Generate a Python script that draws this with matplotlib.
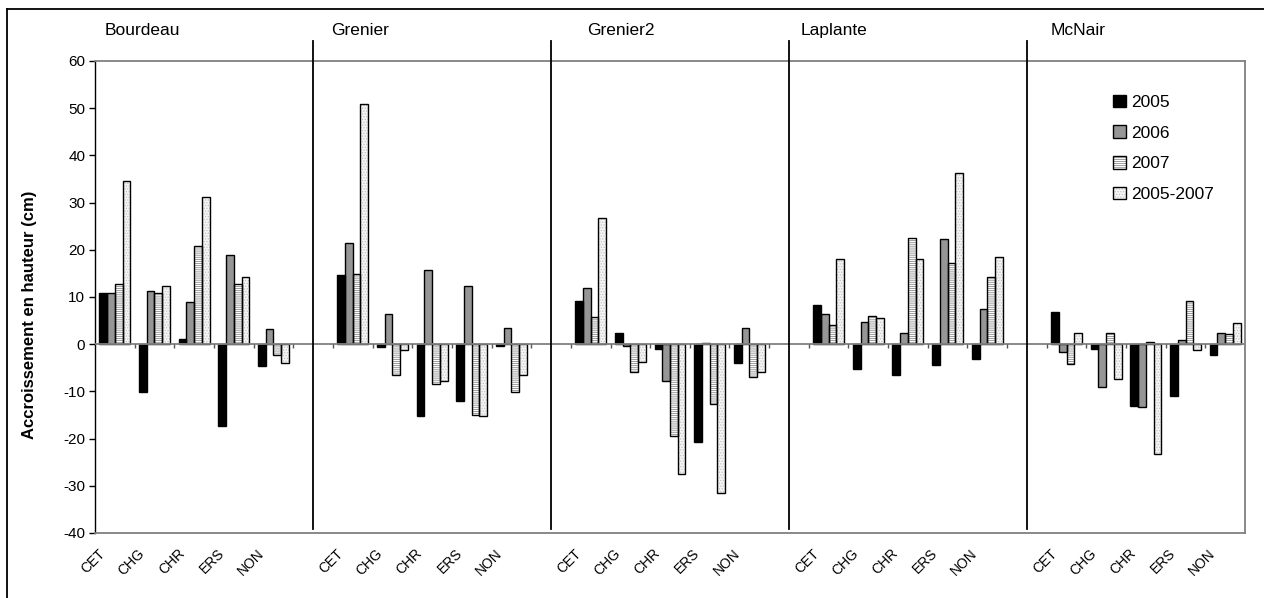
import numpy as np
import matplotlib
matplotlib.use('Agg')
import matplotlib.pyplot as plt
from matplotlib.patches import Patch
from matplotlib.lines import Line2D
from matplotlib.transforms import ScaledTranslation

SITES   = ['Bourdeau', 'Grenier', 'Grenier2', 'Laplante', 'McNair']
SPECIES = ['CET', 'CHG', 'CHR', 'ERS', 'NON']
YEARS   = ['2005', '2006', '2007', '2005-2007']

# one row of 5 species per site
Y2005 = [10.9, -10.2,   1.1, -17.4,  -4.6,
         14.6,  -0.6, -15.3, -12.0,  -0.4,
          9.2,   2.4,  -1.1, -20.7,  -4.0,
          8.3,  -5.2,  -6.6,  -4.4,  -3.1,
          6.8,  -1.1, -13.0, -10.9,  -2.2]
Y2006 = [10.9,  11.3,   8.9,  18.9,   3.2,
         21.4,   6.5,  15.7,  12.4,   3.5,
         11.9,  -0.4,  -7.8,   0.3,   3.5,
          6.5,   4.7,   2.3,  22.2,   7.4,
         -1.6,  -9.0, -13.2,   0.9,   2.3]
Y2007 = [12.8,  10.9,  20.8,  12.8,  -2.2,
         14.8,  -6.6,  -8.4, -15.0, -10.2,
          5.7,  -5.8, -19.4, -12.6,  -7.0,
          4.1,   5.9,  22.5,  17.2,  14.3,
         -4.2,   2.3,   0.5,   9.2,   2.1]
Y0507 = [34.5,  12.4,  31.2,  14.3,  -4.0,
         50.8,  -1.3,  -7.8, -15.3,  -6.6,
         26.7,  -3.7, -27.5, -31.5,  -5.8,
         18.1,   5.6,  18.1,  36.2,  18.4,
          2.3,  -7.3, -23.3,  -1.3,   4.4]

# fill, hatch, hatch colour
STYLES = [('#000000', None,       None),
          ('#969696', None,       None),
          ('#ffffff', '--------', '#8c8c8c'),
          ('#f4f4f4', '......',   '#c4c4c4')]
GRID_GRAY = '#808080'
W = 0.195

plt.rcParams['font.family'] = ['Liberation Sans', 'DejaVu Sans']
plt.rcParams['hatch.linewidth'] = 0.6
plt.rcParams['axes.unicode_minus'] = False


def main():
    fig = plt.figure(figsize=(12.64, 5.98), dpi=100)
    ax = fig.add_axes([95/1264, 65/598, 1150/1264, 472/598])

    n_sites, n_sp = len(SITES), len(SPECIES)
    slots = np.array([s*(n_sp+1) + j for s in range(n_sites) for j in range(n_sp)])
    series = [Y2005, Y2006, Y2007, Y0507]

    handles = []
    for i, (vals, (fc, hatch, hc)) in enumerate(zip(series, STYLES)):
        x = slots + (i - 1.5)*W
        ax.bar(x, vals, W, color=fc, hatch=hatch, edgecolor=hc if hc else fc,
               linewidth=0, zorder=2)
        ax.bar(x, vals, W, facecolor='none', edgecolor='black', linewidth=1.0, zorder=3)
        fill = Patch(facecolor=fc, hatch=hatch, edgecolor=hc if hc else fc, linewidth=0)
        edge = Patch(facecolor='none', edgecolor='black', linewidth=1.0)
        handles.append((fill, edge))

    n_slots = n_sites*(n_sp+1) - 1
    ax.set_xlim(-0.5, n_slots - 0.5)
    ax.set_ylim(-40, 60)
    ax.set_yticks(np.arange(-40, 61, 10))
    ax.tick_params(axis='y', labelsize=11, length=4, width=1, direction='out', pad=3)

    # zero line with small category ticks
    ax.axhline(0, color=GRID_GRAY, lw=1.3, zorder=4)
    bounds = [b - 0.5 for b in range(1, n_slots)]
    ax.vlines(bounds, -0.9, 0, color='#555555', lw=1, zorder=4)

    ax.set_xticks(slots)
    ax.set_xticklabels(SPECIES*n_sites, fontsize=10, rotation=45,
                       ha='right', va='center', rotation_mode='anchor')
    ax.tick_params(axis='x', length=0, pad=13)
    off = ScaledTranslation(-12/100, 0, fig.dpi_scale_trans)
    for lbl in ax.get_xticklabels():
        lbl.set_transform(lbl.get_transform() + off)

    for sp in ['top', 'right', 'bottom']:
        ax.spines[sp].set_color(GRID_GRAY)
        ax.spines[sp].set_linewidth(1.3)
    ax.spines['left'].set_color('black')
    ax.spines['left'].set_linewidth(1.0)

    # separators between sites
    for s in range(1, n_sites):
        xs = s*(n_sp+1) - 1
        ax.plot([xs, xs], [-39.1, 64.3], color='black', lw=1.3, clip_on=False, zorder=5)

    label_x = [-0.25, 5.46, 11.92, 17.3, 23.6]
    for name, lx in zip(SITES, label_x):
        ax.text(lx, 66.5, name, fontsize=12.5, ha='left', va='center', clip_on=False)

    ax.set_ylabel('Accroissement en hauteur (cm)', fontsize=12, fontweight='bold')
    ax.yaxis.set_label_coords(-0.05, 0.462)

    ax.legend(handles, YEARS, loc='upper left', bbox_to_anchor=(0.885, 0.929),
              frameon=False, fontsize=12.5, handlelength=0.75, handleheight=0.75,
              handletextpad=0.3, labelspacing=0.88, borderpad=0, borderaxespad=0)

    # outer frame (cut at right/bottom)
    fig.add_artist(Line2D([7/1264, 1.0], [1 - 9/598]*2, color='black', lw=1.3))
    fig.add_artist(Line2D([7/1264]*2, [0.0, 1 - 9/598], color='black', lw=1.3))

    fig.savefig('out.png', dpi=100, facecolor='white')
    plt.close(fig)


if __name__ == '__main__':
    main()
